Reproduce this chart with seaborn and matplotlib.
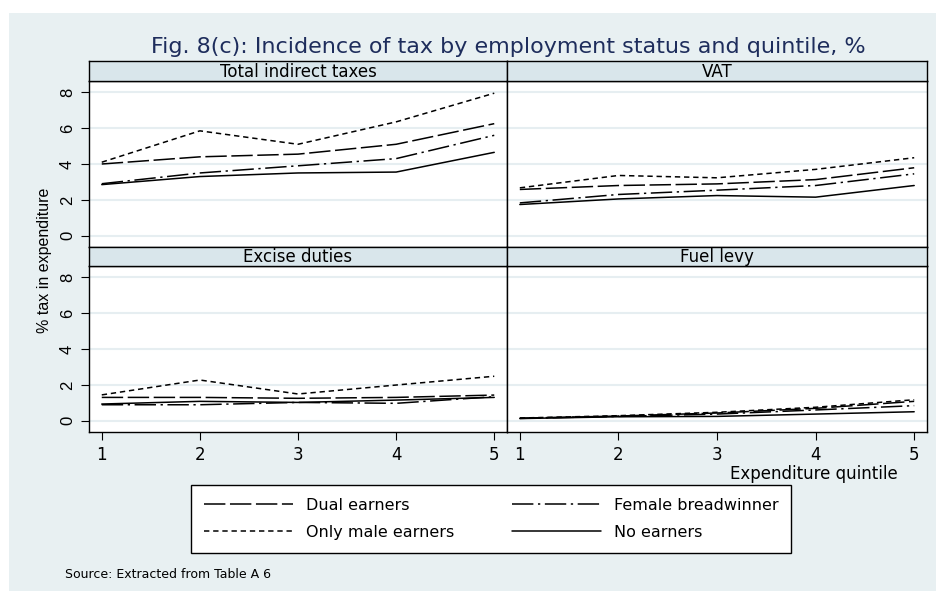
import matplotlib
matplotlib.use("Agg")
from matplotlib import pyplot as plt
from matplotlib.lines import Line2D
import seaborn as sns
import pandas as pd

sns.set_style("white")
plt.rcParams['font.family'] = ['DejaVu Sans']
plt.rcParams['text.color'] = 'black'
plt.rcParams['xtick.color'] = 'black'
plt.rcParams['ytick.color'] = 'black'

# データ
quintiles = [1, 2, 3, 4, 5]
groups = ["Dual earners", "Only male earners", "Female breadwinner", "No earners"]
panels = ["Total indirect taxes", "VAT", "Excise duties", "Fuel levy"]

total_dual = [4.0, 4.4, 4.55, 5.1, 6.25]
total_male = [4.1, 5.85, 5.1, 6.35, 7.95]
total_female = [2.9, 3.5, 3.9, 4.3, 5.6]
total_none = [2.85, 3.3, 3.5, 3.55, 4.65]

vat_dual = [2.58, 2.8, 2.89, 3.13, 3.79]
vat_male = [2.67, 3.36, 3.23, 3.7, 4.35]
vat_female = [1.83, 2.3, 2.54, 2.8, 3.45]
vat_none = [1.74, 2.05, 2.24, 2.15, 2.8]

excise_dual = [1.3, 1.3, 1.25, 1.3, 1.43]
excise_male = [1.44, 2.27, 1.49, 1.99, 2.48]
excise_female = [0.89, 0.89, 1.02, 0.97, 1.34]
excise_none = [0.93, 1.08, 1.02, 1.15, 1.3]

fuel_dual = [0.14, 0.26, 0.43, 0.69, 1.08]
fuel_male = [0.15, 0.28, 0.47, 0.75, 1.17]
fuel_female = [0.13, 0.24, 0.37, 0.6, 0.84]
fuel_none = [0.12, 0.22, 0.24, 0.37, 0.5]

values = {
    "Total indirect taxes": [total_dual, total_male, total_female, total_none],
    "VAT": [vat_dual, vat_male, vat_female, vat_none],
    "Excise duties": [excise_dual, excise_male, excise_female, excise_none],
    "Fuel levy": [fuel_dual, fuel_male, fuel_female, fuel_none],
}

rows = []
for p in panels:
    for g, vals in zip(groups, values[p]):
        for q, v in zip(quintiles, vals):
            rows.append({"panel": p, "group": g, "quintile": q, "value": v})
df = pd.DataFrame(rows)

dashes = {
    "Dual earners": (14, 3),
    "Only male earners": (3.5, 2.5),
    "Female breadwinner": (14, 3, 1.5, 3),
    "No earners": "",
}

bg = "#e8f0f2"
strip_col = "#d9e6eb"
grid_col = "#e6eef1"

fig = plt.figure(figsize=(9.36, 5.91), dpi=100)
fig.patch.set_facecolor("white")
# 背景
fig.patches.append(plt.Rectangle((9 / 936, 0), 1, 1 - 13 / 591, transform=fig.transFigure,
                                 facecolor=bg, edgecolor="none", zorder=-10))

W, H = 936, 591
xs = [(89, 507), (507, 927)]
ys = [(81, 247, 61), (266, 432, 247)]

for i, p in enumerate(panels):
    r, c = divmod(i, 2)
    x0, x1 = xs[c]
    y0, y1, ys0 = ys[r]
    ax = fig.add_axes([x0 / W, 1 - y1 / H, (x1 - x0) / W, (y1 - y0) / H])
    sax = fig.add_axes([x0 / W, 1 - y0 / H, (x1 - x0) / W, (y0 - ys0) / H])
    sax.set_facecolor(strip_col)
    sax.set_xticks([])
    sax.set_yticks([])
    for s in sax.spines.values():
        s.set_color("black")
        s.set_linewidth(1.0)
    sax.text(0.5, 0.45, p, ha="center", va="center", fontsize=12, transform=sax.transAxes)

    sub = df[df["panel"] == p]
    sns.lineplot(data=sub, x="quintile", y="value", style="group", style_order=groups,
                 dashes=dashes, color="black", linewidth=1.1, legend=False, ax=ax)
    ax.set_xlim(0.87, 5.13)
    ax.set_ylim(-0.63, 8.63)
    ax.set_yticks([0, 2, 4, 6, 8])
    ax.set_xticks(quintiles)
    ax.set_facecolor("white")
    ax.grid(axis="y", color=grid_col, linewidth=1.5)
    ax.set_axisbelow(True)
    for s in ax.spines.values():
        s.set_color("black")
        s.set_linewidth(1.0)
    ax.set_xlabel("")
    ax.set_ylabel("")
    ax.tick_params(axis="both", direction="out", length=6, width=0.8, color="black",
                   labelcolor="black", labelsize=12, pad=4)
    if c == 0:
        ax.tick_params(axis="y", left=True, labelrotation=90)
        for lab in ax.get_yticklabels():
            lab.set_va("center")
            lab.set_family("Liberation Sans")
    else:
        ax.tick_params(axis="y", left=False, labelleft=False)
    if r == 1:
        ax.tick_params(axis="x", bottom=True)
    else:
        ax.tick_params(axis="x", bottom=False, labelbottom=False)

fig.text(508 / W, 1 - 47 / H, "Fig. 8(c): Incidence of tax by employment status and quintile, %",
         ha="center", va="center", fontsize=16, color="#1e2d5c")
fig.text(45 / W, 1 - 260 / H, "% tax in expenditure", rotation=90, ha="center", va="center",
         fontsize=11.5, family="Liberation Sans")
fig.text(898 / W, 1 - 474 / H, "Expenditure quintile", ha="right", va="center", fontsize=12)
fig.text(65 / W, 1 - 574 / H, "Source: Extracted from Table A 6", ha="left", va="center",
         fontsize=9)

handles = [Line2D([], [], color="black", linewidth=1.1,
                  linestyle=(0, dashes[g]) if dashes[g] else "-") for g in groups]
leg = fig.legend(handles, groups, loc="upper left", bbox_to_anchor=(191 / W, 1 - 485 / H),
                 borderaxespad=0, ncol=2, fontsize=11.5, frameon=True, fancybox=False,
                 edgecolor="black", framealpha=1, handlelength=5.6, handletextpad=0.8,
                 columnspacing=3.6, borderpad=0.8, labelspacing=0.75)
leg.get_frame().set_linewidth(1.0)

plt.savefig("out.png", dpi=100)
